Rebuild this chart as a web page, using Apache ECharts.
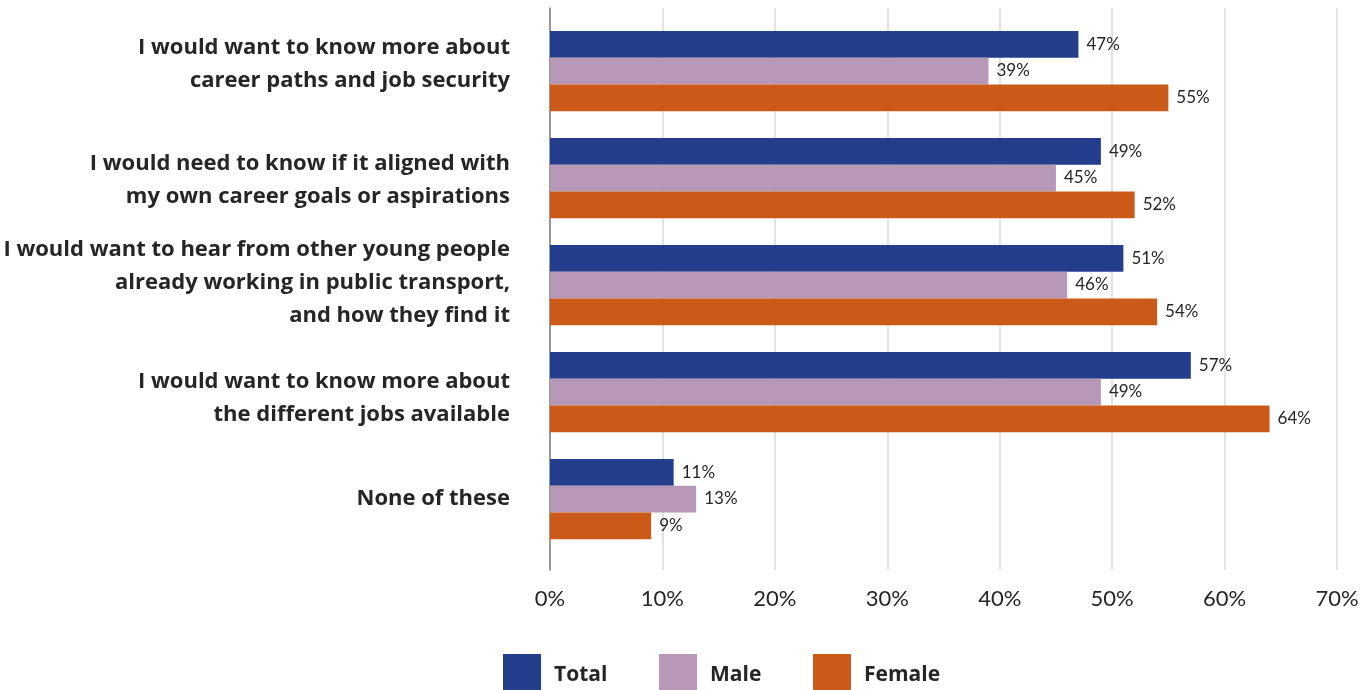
<!DOCTYPE html>
<html>
<head>
<meta charset="utf-8">
<script src="https://cdn.jsdelivr.net/npm/echarts@6/dist/echarts.min.js"></script>
<style>html,body{margin:0;padding:0;background:#fff}#c{width:1368px;height:690px}</style>
</head>
<body>
<div id="c"></div>
<script>
const categories = [
  "I would want to know more about\ncareer paths and job security",
  "I would need to know if it aligned with\nmy own career goals or aspirations",
  "I would want to hear from other young people\nalready working in public transport,\nand how they find it",
  "I would want to know more about\nthe different jobs available",
  "None of these"
];
const seriesNames = ["Total", "Male", "Female"];
const totalValues = [47, 49, 51, 57, 11];
const maleValues = [39, 45, 46, 49, 13];
const femaleValues = [55, 52, 54, 64, 9];
const colors = ["#243E8C", "#B798B6", "#CB5918"];
const axisMax = 70;
const axisStep = 10;

// styling
const FONT = "Lato";
const BOLDFONT = "Open Sans";
// extra spacer (px) below / above each category label to nudge it vertically
const spacerBelow = [13, 0, 5, 0, 0];
const spacerAbove = [0, 5, 0, 12, 0];

const chart = echarts.init(document.getElementById('c'), null, {renderer: 'canvas'});
const valuesList = [totalValues, maleValues, femaleValues];

const series = seriesNames.map((name, i) => ({
  name: name,
  type: 'bar',
  xAxisIndex: 0,
  yAxisIndex: 0,
  data: valuesList[i],
  itemStyle: {color: colors[i]},
  barGap: '0%',
  barCategoryGap: '25%',
  label: {
    show: true,
    position: 'right',
    distance: 8,
    formatter: '{c}%',
    fontFamily: FONT,
    fontSize: 17,
    color: '#262626'
  }
}));

const rich = {
  t: {fontFamily: BOLDFONT, fontSize: 22, fontWeight: 'bold', color: '#262626', lineHeight: 33}
};
for (let k = 1; k <= 20; k++) rich['s' + k] = {fontSize: 1, lineHeight: k};

const legendLefts = [503, 659, 813];
const legends = seriesNames.map((name, i) => ({
  data: [name],
  left: legendLefts[i],
  top: 654,
  padding: 0,
  itemWidth: 38,
  itemHeight: 36,
  itemGap: 13,
  icon: 'rect',
  formatter: n => '{s6| }\n{l|' + n + '}',
  textStyle: {
    padding: [0, 0, 0, 8],
    rich: Object.assign({
      l: {fontFamily: BOLDFONT, fontSize: 21, fontWeight: 'bold', color: '#262626', lineHeight: 28}
    }, rich)
  }
}));

function catFormatter(value, index) {
  const lines = value.split('\n').map(l => '{t|' + l + '}');
  if (spacerAbove[index]) lines.unshift('{s' + spacerAbove[index] + '| }');
  if (spacerBelow[index]) lines.push('{s' + spacerBelow[index] + '| }');
  return lines.join('\n');
}

chart.setOption({
  backgroundColor: '#fff',
  animation: false,
  legend: legends,
  grid: [
    {left: 550, right: 31, top: 17.5, bottom: 137.5},
    {left: 550, right: 31, top: 8, bottom: 120}
  ],
  xAxis: [
    {gridIndex: 0, type: 'value', min: 0, max: axisMax, interval: axisStep,
     axisLabel: {show: false}, splitLine: {show: false}, axisLine: {show: false}, axisTick: {show: false}},
    {gridIndex: 1, type: 'value', min: 0, max: axisMax, interval: axisStep,
     axisLabel: {formatter: '{value}%', fontFamily: FONT, fontSize: 22, color: '#262626', margin: 18},
     splitLine: {show: true, lineStyle: {color: '#D9D9D9', width: 1.5}},
     axisLine: {show: false}, axisTick: {show: false}}
  ],
  yAxis: [
    {gridIndex: 0, type: 'category', data: categories, inverse: true,
     axisLine: {show: false}, axisTick: {show: false},
     axisLabel: {formatter: catFormatter, rich: rich, margin: 40, align: 'right'}},
    {gridIndex: 1, type: 'category', data: categories, inverse: true,
     axisLine: {show: true, lineStyle: {color: '#7F7F7F', width: 1.5}}, axisTick: {show: false},
     axisLabel: {show: false}}
  ],
  series: series
});
</script>
</body>
</html>
